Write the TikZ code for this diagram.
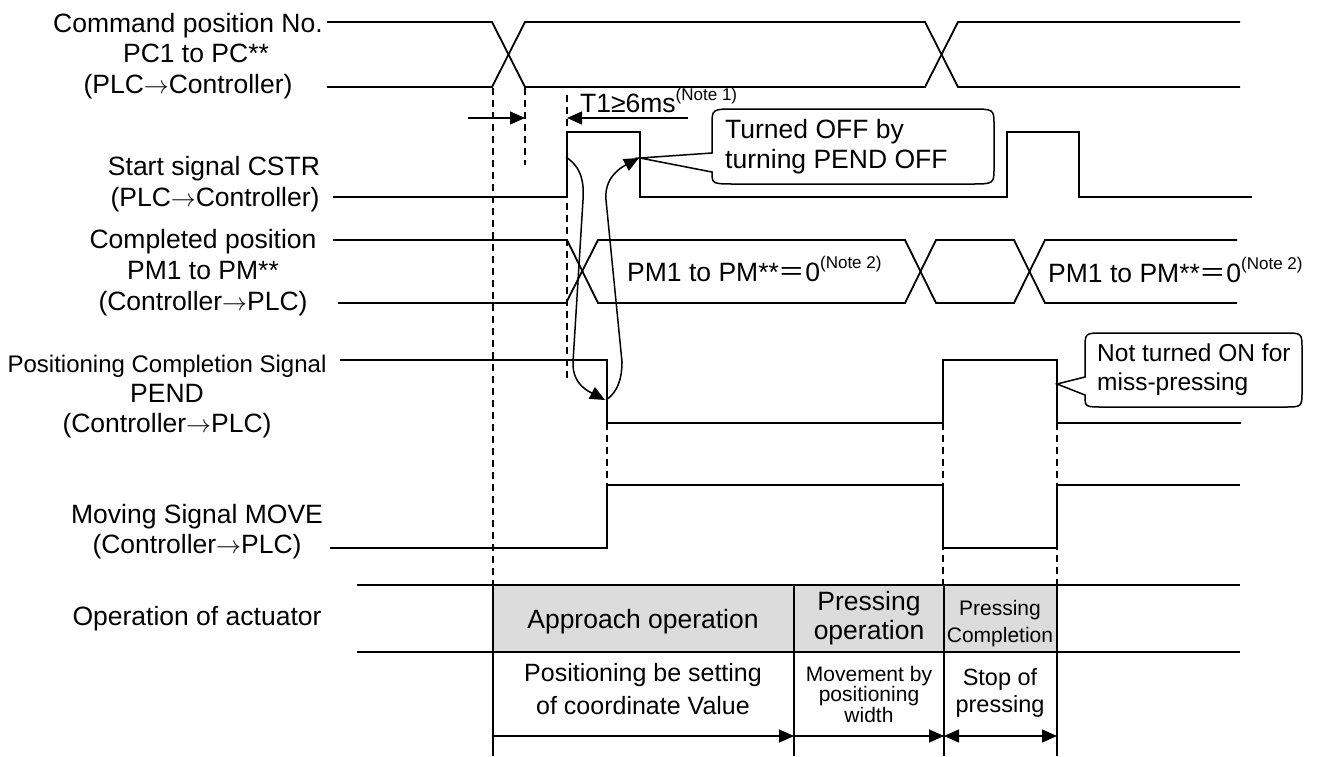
\documentclass[tikz,border=0pt]{standalone}
\usepackage{fontspec}
\setmainfont{Liberation Sans}
\newfontfamily\cjkfont{Noto Sans CJK JP}
\usetikzlibrary{arrows.meta}
\definecolor{cellgray}{RGB}{220,220,220}
\newcommand\rarr{\ensuremath{\rightarrow}}
\begin{document}
\begin{tikzpicture}[x=1pt,y=-1pt,
  sig/.style={line width=1.8pt, line join=miter},
  thin/.style={line width=1.5pt},
  dsh/.style={line width=1.5pt, dash pattern=on 7pt off 5pt},
  tip/.style={-{Triangle[length=15pt,width=13pt]}},
  dtip/.style={{Triangle[length=15pt,width=13pt]}-{Triangle[length=15pt,width=13pt]}},
  L/.style={font=\fontsize{26.5}{31}\selectfont, inner sep=0pt, anchor=base},
  Lc/.style={font=\fontsize{24.5}{29}\selectfont, inner sep=0pt, anchor=base west},
  Lm/.style={font=\fontsize{24}{29}\selectfont, inner sep=0pt, anchor=base},
  Lf/.style={font=\fontsize{25}{30}\selectfont, inner sep=0pt, anchor=base},
  Lt/.style={font=\fontsize{23.5}{28}\selectfont, inner sep=0pt, anchor=base},
  Ls/.style={font=\fontsize{21}{24}\selectfont, inner sep=0pt, anchor=base}
]
\useasboundingbox (0,0) rectangle (1317,756);

% ---------- left labels ----------
\node[L] (l1a) at (188,32) {Command position No.};
\node[L] (l1b) at (196,62) {PC1 to PC**};
\node[L] (l1c) at (188,93) {(PLC\rarr Controller)};
\node[L] (l2a) at (214,175) {Start signal CSTR};
\node[L] (l2b) at (215,206) {(PLC\rarr Controller)};
\node[L] (l3a) at (203,248) {Completed position};
\node[L] (l3b) at (203,279) {PM1 to PM**};
\node[L] (l3c) at (203,310) {(Controller\rarr PLC)};
\node[Lm] (l4a) at (167,372) {Positioning Completion Signal};
\node[L] (l4b) at (167,402) {PEND};
\node[L] (l4c) at (167,432) {(Controller\rarr PLC)};
\node[L] (l5a) at (197,523) {Moving Signal MOVE};
\node[L] (l5b) at (197,553) {(Controller\rarr PLC)};
\node[L] (l6) at (197,625) {Operation of actuator};

% ---------- table ----------
\fill[cellgray] (493,585) rectangle (1057,652);
\draw[sig] (357,585) -- (1240,585);
\draw[sig] (357,652) -- (1240,652);
\foreach \xx in {493,794,944,1057} \draw[sig] (\xx,585) -- (\xx,756);

% ---------- dashed guides ----------
\draw[dsh] (493,88) -- (493,585);
\draw[dsh] (525,88) -- (525,165);
\draw[dsh] (567,95) -- (567,382);
\draw[dsh] (607,423) -- (607,485);
\draw[dsh] (943,423) -- (943,585);
\draw[dsh] (1057,423) -- (1057,585);

% ---------- command position ----------
\draw[sig] (327,22) -- (492,22) -- (525,87) -- (925,87) -- (958,22) -- (1240,22);
\draw[sig] (327,87) -- (492,87) -- (525,22) -- (925,22) -- (958,87) -- (1240,87);

% ---------- CSTR ----------
\draw[sig] (333,197) -- (567,197) -- (567,132) -- (640,132) -- (640,197) -- (1007,197) -- (1007,132) -- (1079,132) -- (1079,197) -- (1252,197);

% ---------- PM ----------
\draw[sig] (333,240) -- (567,240) -- (598,303) -- (905,303) -- (936,240) -- (1014,240) -- (1045,303) -- (1237,303);
\draw[sig] (338,303) -- (566,303) -- (598,240) -- (905,240) -- (936,303) -- (1014,303) -- (1045,240) -- (1237,240);
\node[L, anchor=base west] (pm1) at (627,281) {PM1 to PM**{\cjkfont ＝}0\raisebox{13pt}{\fontsize{17}{20}\selectfont(Note 2)}};
\node[L, anchor=base west] (pm2) at (1048,282) {PM1 to PM**{\cjkfont ＝}0\raisebox{13pt}{\fontsize{17}{20}\selectfont(Note 2)}};

% ---------- PEND ----------
\draw[sig] (340,360) -- (607,360) -- (607,423) -- (943,423) -- (943,360) -- (1057,360) -- (1057,423) -- (1241,423);

% ---------- MOVE ----------
\draw[sig] (330,548) -- (607,548) -- (607,485) -- (943,485) -- (943,548) -- (1057,548) -- (1057,485) -- (1240,485);

% ---------- T1 annotation ----------
\coordinate (a1s) at (468,118);
\coordinate (a1e) at (525,118);
\coordinate (a2s) at (688,118);
\coordinate (a2e) at (567,118);
\draw[thin, tip] (a1s) -- (a1e);
\draw[thin, tip] (a2s) -- (a2e);
\node[L, anchor=base west] (t1) at (580,112) {T1≥6ms\raisebox{12pt}{\fontsize{17}{20}\selectfont(Note 1)}};

% ---------- curved arrows ----------
\draw[thin, tip] (566,157) .. controls (582,168) and (584,182) .. (583,200) -- (573,362) .. controls (572,385) and (590,392) .. (605,400);
\draw[thin, tip] (606,400) .. controls (618,392) and (622,378) .. (622,362) -- (606,200) .. controls (604,178) and (620,168) .. (639,158);

% ---------- callouts ----------
\draw[thin, fill=white] (640,158) -- (712,172) .. controls (712,184) .. (736,184) -- (970,184) .. controls (994,184) .. (994,168) -- (994,125) .. controls (994,109) .. (970,109) -- (736,109) .. controls (712,109) .. (712,125) -- (712,153) -- cycle;
\node[L, anchor=base west] (c1a) at (725,138) {Turned OFF by};
\node[L, anchor=base west] (c1b) at (725,168) {turning PEND OFF};

\draw[thin, fill=white] (1057,384) -- (1085,395) .. controls (1085,407) .. (1103,407) -- (1284,407) .. controls (1302,407) .. (1302,391) -- (1302,349) .. controls (1302,333) .. (1284,333) -- (1103,333) .. controls (1085,333) .. (1085,349) -- (1085,377) -- cycle;
\node[Lc] (c2a) at (1097,361) {Not turned ON for};
\node[Lc] (c2b) at (1097,390) {miss-pressing};

% ---------- table texts ----------
\node[L] (t1c) at (643,628) {Approach operation};
\node[L] (t2a) at (869,610) {Pressing};
\node[L] (t2b) at (869,639) {operation};
\node[Ls] (t3a) at (1000,615) {Pressing};
\node[Ls] (t3b) at (1000,642) {Completion};
\node[Lf] (t4a) at (643,681) {Positioning be setting};
\node[Lf] (t4b) at (643,714) {of coordinate Value};
\node[Ls] (t5a) at (869,681) {Movement by};
\node[Ls] (t5b) at (869,701) {positioning};
\node[Ls] (t5c) at (869,722) {width};
\node[Lt] (t6a) at (1000,685) {Stop of};
\node[Lt] (t6b) at (1000,712) {pressing};

% ---------- bottom arrows ----------
\coordinate (b0) at (493,736);
\coordinate (b1) at (794,736);
\coordinate (b2) at (944,736);
\coordinate (b3) at (1057,736);
\draw[thin, tip] (b0) -- (b1);
\draw[thin, tip] (b1) -- (b2);
\draw[thin, dtip] (b2) -- (b3);
\end{tikzpicture}
\end{document}
